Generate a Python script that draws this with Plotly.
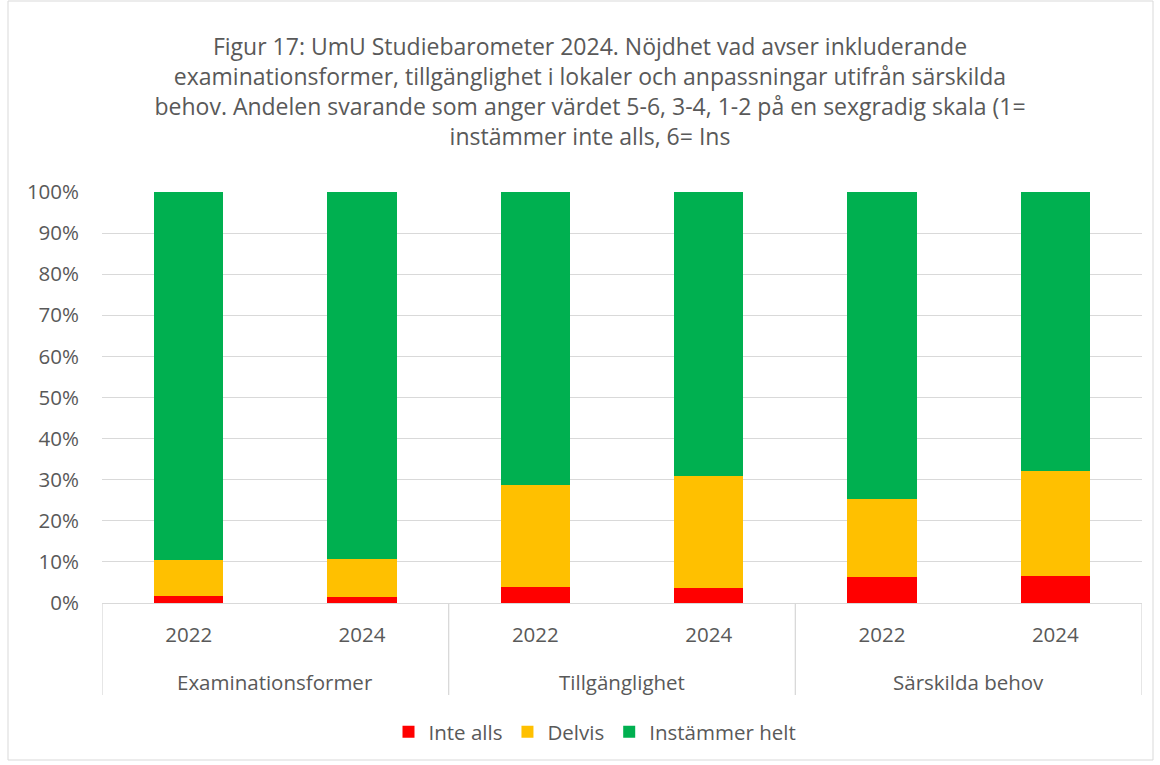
import plotly.graph_objects as go

groups = ["Examinationsformer", "Tillgänglighet", "Särskilda behov"]
years = ["2022", "2024"]
inte_alls = [1.6, 1.4, 3.8, 3.7, 6.4, 6.5]
delvis = [8.8, 9.3, 24.8, 27.2, 18.9, 25.6]
instammer = [89.6, 89.3, 71.4, 69.1, 74.7, 67.9]
series_names = ["Inte alls", "Delvis", "Instämmer helt"]
colors = ["#FF0000", "#FFC000", "#00B050"]
yticks = [0, 10, 20, 30, 40, 50, 60, 70, 80, 90, 100]

title = ("Figur 17: UmU Studiebarometer 2024. Nöjdhet vad avser inkluderande<br>"
         "examinationsformer, tillgänglighet i lokaler och anpassningar utifrån särskilda<br>"
         "behov. Andelen svarande som anger värdet 5-6, 3-4, 1-2 på en sexgradig skala (1=<br>"
         "instämmer inte alls, 6= Ins")

x_idx = list(range(len(groups) * len(years)))
x_text = [y for g in groups for y in years]

FONT = "'Open Sans', sans-serif"
GRAY = "#595959"
FS = 20.5

fig = go.Figure()
for name, vals, c in zip(series_names, [inte_alls, delvis, instammer], colors):
    fig.add_trace(go.Bar(x=x_idx, y=vals, name=name, marker=dict(color=c, line=dict(width=0)),
                         hoverinfo="y+name"))

W, H = 1160, 765
L, R, T, B = 102, 18, 192, 162
pw, ph = W - L - R, H - T - B

def py(pix):  # pixel y -> paper y
    return (H - B - pix) / ph

def px(pix):
    return (pix - L) / pw

shapes = []
# group dividers
for k in range(len(groups) + 1):
    xv = k * len(years) - 0.5
    shapes.append(dict(type="line", xref="x", yref="paper", x0=xv, x1=xv, y0=0, y1=py(695),
                       line=dict(color="#d9d9d9", width=1.3)))
# outer chart border
shapes.append(dict(type="rect", xref="paper", yref="paper", x0=px(8), x1=px(1153), y0=py(760), y1=py(1),
                   line=dict(color="#d9d9d9", width=1), layer="below"))

annotations = []
for gi, g in enumerate(groups):
    annotations.append(dict(x=gi * len(years) + 0.5, y=py(682), xref="x", yref="paper", text=g,
                            showarrow=False, font=dict(family=FONT, size=FS, color=GRAY),
                            xanchor="center", yanchor="middle"))

fig.update_layout(
    width=W, height=H,
    margin=dict(l=L, r=R, t=T, b=B),
    barmode="stack", bargap=0.6,
    plot_bgcolor="white", paper_bgcolor="white",
    font=dict(family=FONT, size=FS, color=GRAY),
    title=dict(text=title, x=590 / W, xanchor="center", y=1 - 55 / H, yanchor="top",
               font=dict(family=FONT, size=23, color=GRAY)),
    xaxis=dict(tickmode="array", tickvals=x_idx, ticktext=x_text, range=[-0.5, 5.5],
               showgrid=False, zeroline=False, showline=True, linecolor="#d9d9d9", linewidth=1.3,
               ticks="", ticklabelstandoff=13, tickfont=dict(size=FS, color=GRAY)),
    yaxis=dict(range=[0, 100], tickvals=yticks, ticktext=[f"{v}%" for v in yticks],
               showgrid=True, gridcolor="#d9d9d9", gridwidth=1.3, zeroline=False, showline=False,
               ticks="", ticklabelstandoff=22, tickfont=dict(size=FS, color=GRAY)),
    legend=dict(orientation="h", x=px(595), xanchor="center", y=py(732), yanchor="middle",
                font=dict(family=FONT, size=FS, color=GRAY), traceorder="normal",
                itemwidth=30, itemsizing="constant"),
    shapes=shapes, annotations=annotations,
)

fig.write_html("out.html", config={"displayModeBar": False},
               post_script="document.body.style.margin='0';")
